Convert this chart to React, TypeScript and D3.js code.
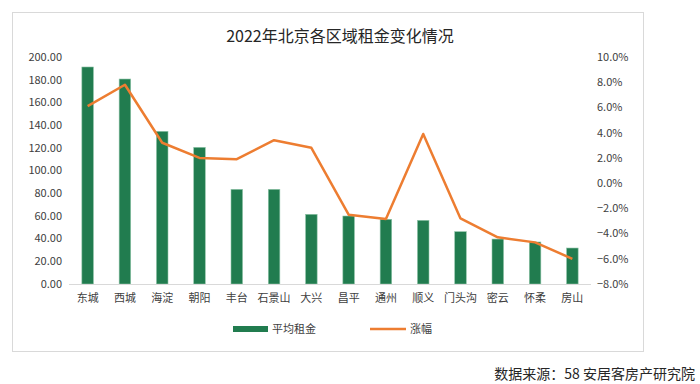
import React, { useEffect, useRef } from 'react';
import * as d3 from 'd3';

const districts = ['东城', '西城', '海淀', '朝阳', '丰台', '石景山', '大兴', '昌平', '通州', '顺义', '门头沟', '密云', '怀柔', '房山'];
const avgRent = [191.2, 180.6, 134.5, 120.4, 83.4, 83.4, 61.4, 59.9, 57.0, 56.1, 46.1, 39.6, 37.0, 31.7];
const changePct = [6.1, 7.8, 3.2, 2.0, 1.9, 3.4, 2.8, -2.5, -2.85, 3.9, -2.8, -4.3, -4.7, -6.0];
const rentTicks = [0, 20, 40, 60, 80, 100, 120, 140, 160, 180, 200];
const pctTicks = [-8, -6, -4, -2, 0, 2, 4, 6, 8, 10];

const FONT = '"Noto Sans CJK SC", "Microsoft YaHei", sans-serif';

export default function App() {
  const ref = useRef<SVGSVGElement>(null);

  useEffect(() => {
    const svg = d3.select(ref.current);
    svg.selectAll('*').remove();

    const width = 700;
    const height = 384;
    const margin = { top: 57, right: 109, bottom: 100, left: 69 };

    // chart frame
    svg
      .append('rect')
      .attr('x', 12.5)
      .attr('y', 12.5)
      .attr('width', 631)
      .attr('height', 339)
      .attr('fill', '#fff')
      .attr('stroke', '#d9d9d9');

    const x = d3
      .scaleBand<string>()
      .domain(districts)
      .range([margin.left, width - margin.right])
      .paddingInner(0.69)
      .paddingOuter(0.345);

    const yL = d3
      .scaleLinear()
      .domain([0, 200])
      .range([height - margin.bottom, margin.top]);

    const yR = d3
      .scaleLinear()
      .domain([-8, 10])
      .range([height - margin.bottom, margin.top]);

    // title
    svg
      .append('text')
      .attr('x', 340)
      .attr('y', 42)
      .attr('text-anchor', 'middle')
      .attr('font-family', FONT)
      .attr('font-size', 16)
      .attr('fill', '#262626')
      .text('2022年北京各区域租金变化情况');

    // left axis labels
    svg
      .append('g')
      .selectAll('text')
      .data(rentTicks)
      .join('text')
      .attr('x', 62)
      .attr('y', (d) => yL(d))
      .attr('dy', '0.35em')
      .attr('text-anchor', 'end')
      .attr('font-family', FONT)
      .attr('font-size', 11)
      .attr('fill', '#404040')
      .text((d) => d3.format('.2f')(d));

    // right axis labels
    svg
      .append('g')
      .selectAll('text')
      .data(pctTicks)
      .join('text')
      .attr('x', 597)
      .attr('y', (d) => yR(d))
      .attr('dy', '0.35em')
      .attr('text-anchor', 'start')
      .attr('font-family', FONT)
      .attr('font-size', 11)
      .attr('fill', '#404040')
      .text((d) => d3.format('.1f')(d) + '%');

    // bars
    svg
      .append('g')
      .selectAll('rect')
      .data(avgRent)
      .join('rect')
      .attr('x', (_, i) => x(districts[i])!)
      .attr('y', (d) => yL(d))
      .attr('width', x.bandwidth())
      .attr('height', (d) => yL(0) - yL(d))
      .attr('fill', '#217c4f')
      .attr('stroke', '#8fc4a8')
      .attr('stroke-width', 0.6);

    // baseline
    svg
      .append('line')
      .attr('x1', margin.left)
      .attr('x2', width - margin.right)
      .attr('y1', yL(0) + 0.5)
      .attr('y2', yL(0) + 0.5)
      .attr('stroke', '#d9d9d9');

    // category labels
    svg
      .append('g')
      .selectAll('text')
      .data(districts)
      .join('text')
      .attr('x', (d) => x(d)! + x.bandwidth() / 2)
      .attr('y', 302)
      .attr('text-anchor', 'middle')
      .attr('font-family', FONT)
      .attr('font-size', 11)
      .attr('fill', '#404040')
      .text((d) => d);

    // line
    const line = d3
      .line<number>()
      .x((_, i) => x(districts[i])! + x.bandwidth() / 2)
      .y((d) => yR(d));

    svg
      .append('path')
      .datum(changePct)
      .attr('fill', 'none')
      .attr('stroke', '#ed7d31')
      .attr('stroke-width', 2.5)
      .attr('stroke-linejoin', 'round')
      .attr('d', line);

    // legend
    const legend = svg.append('g').attr('font-family', FONT).attr('font-size', 11).attr('fill', '#404040');
    legend.append('rect').attr('x', 233).attr('y', 326).attr('width', 35).attr('height', 6).attr('fill', '#217c4f');
    legend.append('text').attr('x', 272).attr('y', 329).attr('dy', '0.35em').text('平均租金');
    legend
      .append('line')
      .attr('x1', 370)
      .attr('x2', 406)
      .attr('y1', 329)
      .attr('y2', 329)
      .attr('stroke', '#ed7d31')
      .attr('stroke-width', 2.5);
    legend.append('text').attr('x', 410).attr('y', 329).attr('dy', '0.35em').text('涨幅');

    // source
    svg
      .append('text')
      .attr('x', 695)
      .attr('y', 379)
      .attr('text-anchor', 'end')
      .attr('font-family', FONT)
      .attr('font-size', 14)
      .attr('fill', '#262626')
      .text('数据来源：58 安居客房产研究院');
  }, []);

  return (
    <svg
      ref={ref}
      width={700}
      height={384}
      style={{ position: 'absolute', left: 0, top: 0, background: '#fff' }}
    />
  );
}
